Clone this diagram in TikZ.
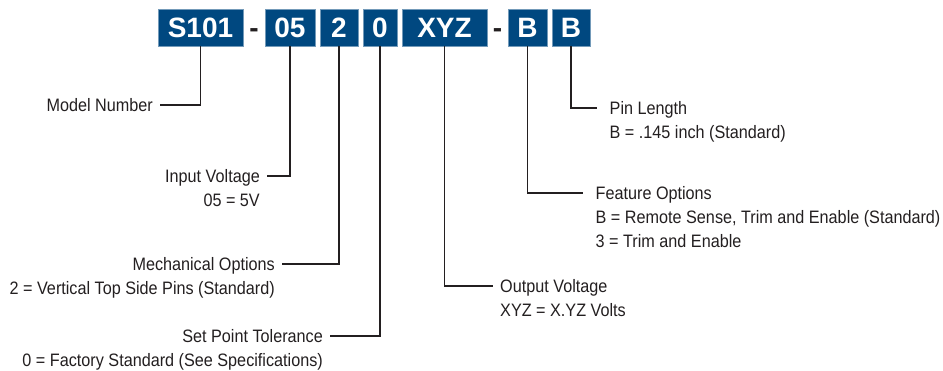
\documentclass[tikz,border=0pt]{standalone}
\usepackage{fontspec}
\setmainfont[FakeStretch=0.9]{Liberation Sans}
\newfontfamily\boxfont{Liberation Sans}
\usetikzlibrary{positioning}
\definecolor{codeblue}{RGB}{0,72,128}
\definecolor{inkgray}{RGB}{35,31,32}

\begin{document}
\begin{tikzpicture}[x=1pt, y=-1pt,
    codebox/.style={fill=codeblue, draw=codeblue!55!white, line width=0.5pt,
        text=white, font=\boxfont\bfseries\fontsize{28}{28}\selectfont,
        minimum height=37pt, inner sep=0pt, outer sep=0pt,
        text height=20pt, text depth=0pt},
    hyph/.style={text=inkgray, font=\boxfont\bfseries\fontsize{28}{28}\selectfont,
        minimum height=37pt, inner sep=0pt, outer sep=0pt,
        text height=20pt, text depth=0pt},
    lbl/.style={text=inkgray, font=\fontsize{18}{18}\selectfont,
        inner xsep=7pt, inner ysep=0pt, text height=13pt, text depth=0pt},
    far/.style={inner xsep=12.5pt},
    link/.style={draw=inkgray, line width=1.1pt}
]
    \useasboundingbox (0,0) rectangle (943,371);

    % --- Part number boxes ---
    \node[codebox, minimum width=85pt] (s101) at (200.5,27.5) {S101};
    \node[hyph, minimum width=22pt, right=0pt of s101] (d1) {-};
    \node[codebox, minimum width=50pt, right=0pt of d1] (v05) {05};
    \node[codebox, minimum width=38pt, right=5pt of v05] (m2) {2};
    \node[codebox, minimum width=34pt, right=5pt of m2] (t0) {0};
    \node[codebox, minimum width=85pt, right=5pt of t0] (xyz) {XYZ};
    \node[hyph, minimum width=21pt, right=0pt of xyz] (d2) {-};
    \node[codebox, minimum width=39pt, right=0pt of d2] (fb) {B};
    \node[codebox, minimum width=38pt, right=5pt of fb] (pb) {B};

    % --- Left side labels ---
    \node[lbl, anchor=east] (mn) at (160,105) {Model Number};

    \node[lbl, anchor=east] (iv) at (267,176) {Input Voltage};
    \node[lbl, below=10.5pt of iv.south east, anchor=north east] (iv1) {05 = 5V};

    \node[lbl, anchor=east] (mo) at (282,264) {Mechanical Options};
    \node[lbl, below=10.5pt of mo.south east, anchor=north east] (mo1)
        {2 = Vertical Top Side Pins (Standard)};

    \node[lbl, anchor=east] (sp) at (330,336) {Set Point Tolerance};
    \node[lbl, below=10.5pt of sp.south east, anchor=north east] (sp1)
        {0 = Factory Standard (See Specifications)};

    % --- Right side labels ---
    \node[lbl, anchor=west] (ov) at (493,286) {Output Voltage};
    \node[lbl, below=10.5pt of ov.south west, anchor=north west] (ov1)
        {XYZ = X.YZ Volts};

    \node[lbl, far, anchor=west] (fo) at (583,193) {Feature Options};
    \node[lbl, far, below=10.5pt of fo.south west, anchor=north west] (fo1)
        {B = Remote Sense, Trim and Enable (Standard)};
    \node[lbl, far, below=10.5pt of fo1.south west, anchor=north west] (fo2)
        {3 = Trim and Enable};

    \node[lbl, far, anchor=west] (pl) at (597,108) {Pin Length};
    \node[lbl, far, below=10.5pt of pl.south west, anchor=north west] (pl1)
        {B = .145 inch (Standard)};

    % --- Leader lines ---
    \draw[link] (mn) -| (s101);
    \draw[link] (iv) -| (v05);
    \draw[link] (mo) -| (m2);
    \draw[link] (sp) -| (t0);
    \draw[link] (xyz) |- (ov);
    \draw[link] (fb) |- (fo);
    \draw[link] (pb) |- (pl);

\end{tikzpicture}
\end{document}
